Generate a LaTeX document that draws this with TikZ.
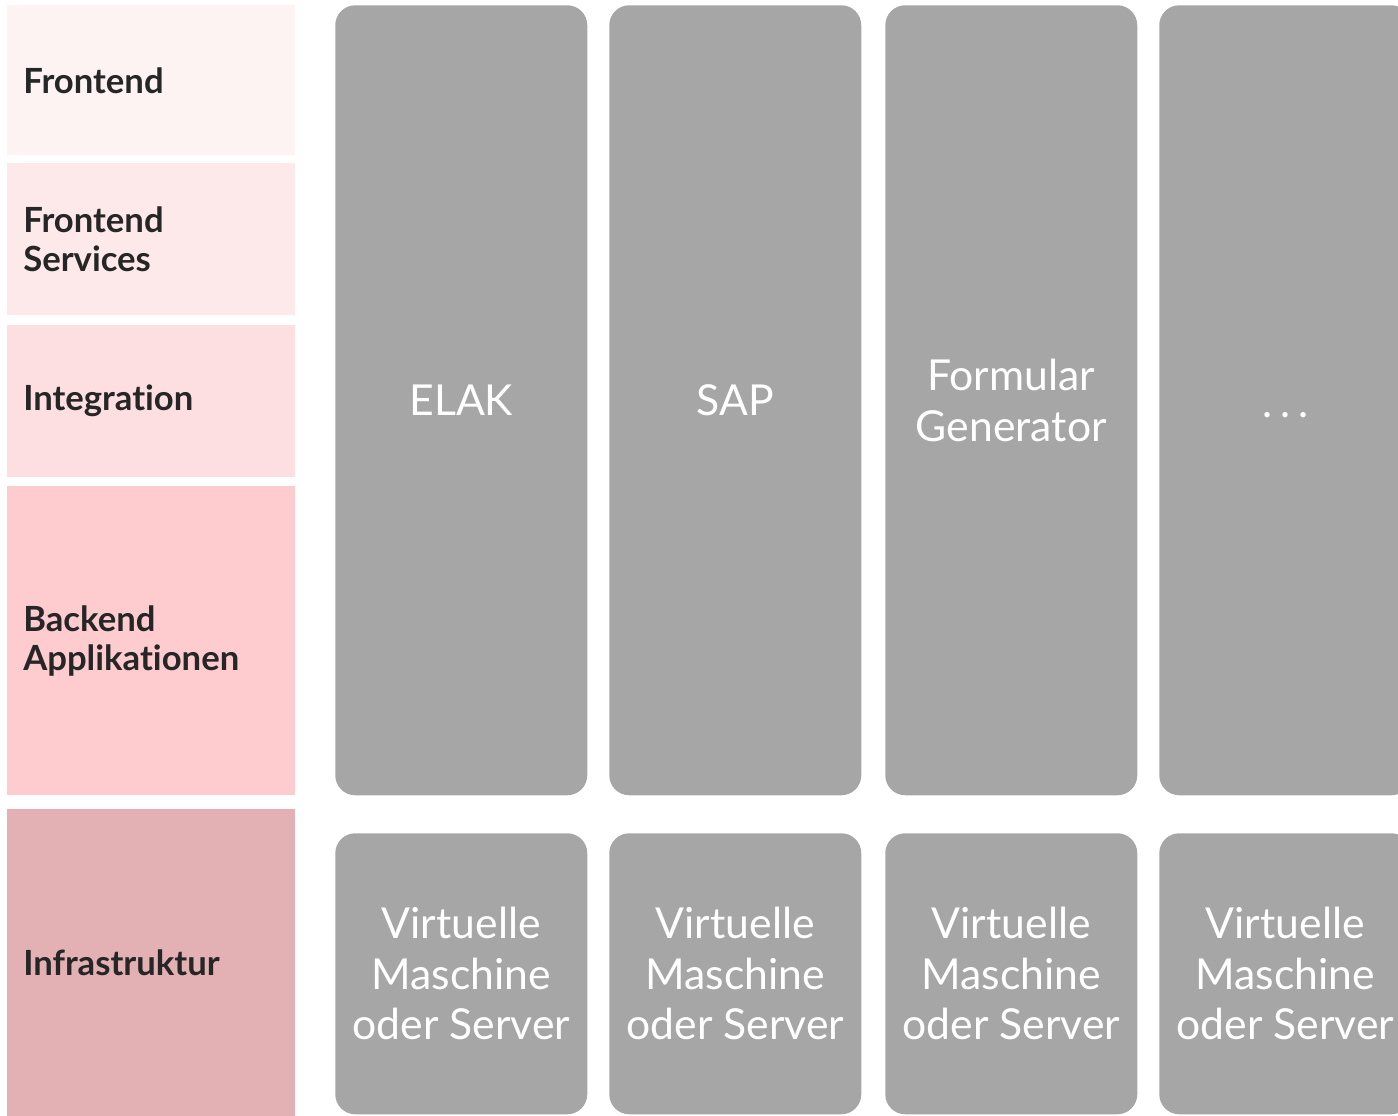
\documentclass[tikz,border=0pt]{standalone}
\usepackage{fontspec}
\setmainfont{Lato}[Ligatures=NoCommon]
\usepackage{tikz}
\definecolor{layerA}{HTML}{FEF3F3}
\definecolor{layerB}{HTML}{FEE9EA}
\definecolor{layerC}{HTML}{FEDFE1}
\definecolor{layerD}{HTML}{FECBCF}
\definecolor{layerE}{HTML}{E3B1B3}
\definecolor{colgray}{HTML}{A6A6A6}
\definecolor{labeltext}{HTML}{262626}
\tikzset{
    layer/.style={anchor=north west, inner sep=0pt, inner xsep=12pt,
        minimum width=216pt, text width=192pt, align=left,
        font=\bfseries\fontsize{26}{29.5}\selectfont, text=labeltext},
    column/.style={anchor=north west, fill=colgray, rounded corners=15pt,
        minimum width=189pt, inner sep=0pt, align=center, text=white,
        font=\fontsize{32}{38}\selectfont},
    app/.style={column, minimum height=592.5pt},
    vm/.style={column, minimum height=210.75pt}
}

\begin{document}
\begin{tikzpicture}[x=0.75pt,y=-0.75pt]
    \clip (0,0) rectangle (1398,1116);
    % layers on the left
    \node[layer, fill=layerA, minimum height=112.5pt] (front) at (7,5) {Frontend};
    \node[layer, fill=layerB, minimum height=114pt] (frontsrv) at (7,163) {Frontend\\Services};
    \node[layer, fill=layerC, minimum height=114pt] (integ) at (7,325) {Integration};
    \node[layer, fill=layerD, minimum height=231.75pt] (backend) at (7,486) {Backend\\Applikationen};
    \node[layer, fill=layerE, minimum height=230.25pt] (infra) at (7,809) {Infrastruktur};
    % applications
    \node[app] (elak) at (335,5) {ELAK};
    \node[app] (sap) at (609,5) {SAP};
    \node[app] (formgen) at (885,5) {Formular\\Generator};
    \node[app] (more) at (1159,5) {\raisebox{-13pt}[0pt][0pt]{.\hspace{6pt}.\hspace{6pt}.}};
    % virtual machines
    \node[vm] (vmA) at (335,833) {Virtuelle\\Maschine\\oder Server};
    \node[vm] (vmB) at (609,833) {Virtuelle\\Maschine\\oder Server};
    \node[vm] (vmC) at (885,833) {Virtuelle\\Maschine\\oder Server};
    \node[vm] (vmD) at (1159,833) {Virtuelle\\Maschine\\oder Server};
\end{tikzpicture}
\end{document}
